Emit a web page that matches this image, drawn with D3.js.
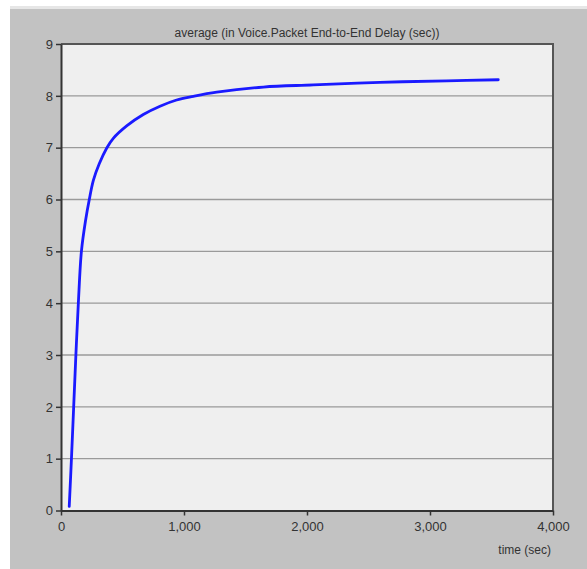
<!DOCTYPE html>
<html>
<head>
<meta charset="utf-8">
<script src="https://cdn.jsdelivr.net/npm/d3@7"></script>
<style>
  body { margin: 0; background: #fff; }
  svg { display: block; font-family: "Liberation Sans", Arial, sans-serif; }
</style>
</head>
<body>
<div id="viz"></div>
<script>
const width = 587;
const height = 569;
const margin = {top: 44, right: 34, bottom: 58, left: 61};

// values
const times = [67, 85, 103, 121, 141, 166, 200, 230, 263, 311, 371, 425, 534, 669, 805, 940, 1076, 1266, 1645, 2051, 2593, 3136, 3555];
const delays = [0.08, 1, 2, 3, 4, 5, 5.6, 6.0, 6.37, 6.69, 6.99, 7.18, 7.42, 7.64, 7.80, 7.92, 7.99, 8.07, 8.17, 8.21, 8.26, 8.29, 8.31];
const xTicks = [0, 1000, 2000, 3000, 4000];
const yTicks = [0, 1, 2, 3, 4, 5, 6, 7, 8, 9];
const title = 'average (in Voice.Packet End-to-End Delay (sec))';
const xLabel = 'time (sec)';

const data = times.map((t, i) => ({t: t, v: delays[i]}));

const scaleX = d3.scaleLinear()
  .domain([0, 4000])
  .range([margin.left, width - margin.right]);

const scaleY = d3.scaleLinear()
  .domain([0, 9])
  .range([height - margin.bottom - 0.5, margin.top]);

const svg = d3.select('#viz')
  .append('svg')
    .attr('width', width)
    .attr('height', height);

// grey panel behind the chart
svg.append('rect')
  .attr('x', 10)
  .attr('y', 9)
  .attr('width', width - 10)
  .attr('height', height - 9)
  .attr('fill', '#c2c2c2');
svg.append('rect')
  .attr('x', 10)
  .attr('y', 6)
  .attr('width', width - 10)
  .attr('height', 3)
  .attr('fill', '#e6e6e6');

// plot area
svg.append('rect')
  .attr('x', margin.left)
  .attr('y', margin.top)
  .attr('width', scaleX(4000) - margin.left)
  .attr('height', scaleY(0) - margin.top)
  .attr('fill', '#efefef');

// horizontal grid lines
svg.append('g')
  .selectAll('line')
  .data(yTicks.filter(d => d > 0 && d < 9))
  .join('line')
    .attr('x1', margin.left)
    .attr('x2', scaleX(4000))
    .attr('y1', d => scaleY(d))
    .attr('y2', d => scaleY(d))
    .attr('stroke', '#9a9a9a')
    .attr('stroke-width', 1.3);

// frame (top and right)
svg.append('path')
  .attr('d', `M${margin.left},${margin.top}H${scaleX(4000)}V${scaleY(0)}`)
  .attr('fill', 'none')
  .attr('stroke', '#555')
  .attr('stroke-width', 2);

// the curve
const line = d3.line()
  .x(d => scaleX(d.t))
  .y(d => scaleY(d.v))
  .curve(d3.curveCatmullRom.alpha(0.5));

svg.append('path')
  .datum(data)
  .attr('d', line)
  .attr('fill', 'none')
  .attr('stroke', '#1a1aff')
  .attr('stroke-width', 2.8)
  .attr('stroke-linecap', 'round');

// axes
const axisBottom = d3.axisBottom(scaleX)
  .tickValues(xTicks)
  .tickFormat(d3.format(','))
  .tickSize(5)
  .tickSizeOuter(0);
const xAxis = svg.append('g')
  .attr('transform', `translate(0,${scaleY(0)})`)
  .call(axisBottom);

const axisLeft = d3.axisLeft(scaleY)
  .tickValues(yTicks)
  .tickSize(5)
  .tickSizeOuter(0);
const yAxis = svg.append('g')
  .attr('transform', `translate(${margin.left},0)`)
  .call(axisLeft);

[xAxis, yAxis].forEach(ax => {
  ax.select('.domain').attr('stroke', '#333').attr('stroke-width', 2);
  ax.selectAll('.tick line').attr('stroke', '#333').attr('stroke-width', 1.5);
  ax.selectAll('.tick text')
    .attr('fill', '#333')
    .style('font-size', '13px')
    .style('font-family', '"Liberation Sans", Arial, sans-serif');
});
xAxis.selectAll('.tick text').attr('dy', '0.95em');
yAxis.selectAll('.tick text').attr('x', -8);

// title and axis label
svg.append('text')
  .attr('x', (margin.left + scaleX(4000)) / 2)
  .attr('y', 37)
  .attr('text-anchor', 'middle')
  .attr('fill', '#333')
  .style('font-size', '12px')
  .text(title);

svg.append('text')
  .attr('x', scaleX(4000) - 2)
  .attr('y', 554)
  .attr('text-anchor', 'end')
  .attr('fill', '#333')
  .style('font-size', '12px')
  .text(xLabel);
</script>
</body>
</html>
